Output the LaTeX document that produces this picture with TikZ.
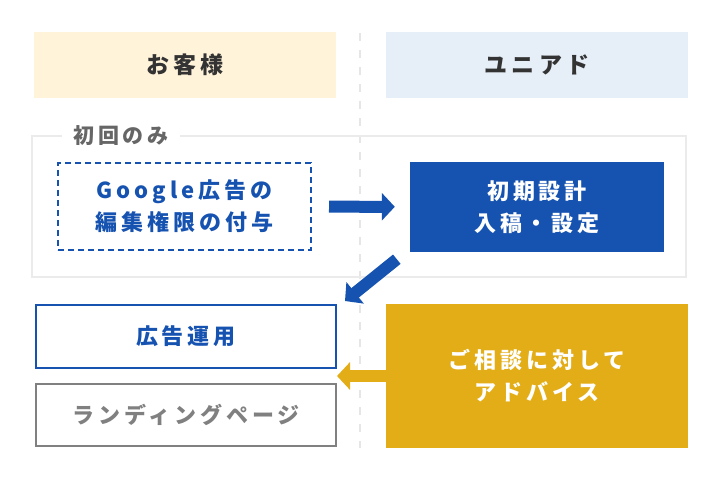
\documentclass[tikz,border=0pt]{standalone}
\usepackage{fontspec}
\setmainfont{Noto Sans CJK JP}[LetterSpace=18]
\usepackage{tikz}
\usetikzlibrary{positioning}
\usetikzlibrary{calc}
\usetikzlibrary{arrows.meta}

\definecolor{custbg}{HTML}{FFF3DA}
\definecolor{unibg}{HTML}{E6EEF7}
\definecolor{headtext}{HTML}{333333}
\definecolor{framegray}{HTML}{EBEBEB}
\definecolor{labelgray}{HTML}{666666}
\definecolor{divgray}{HTML}{E6E6E6}
\definecolor{ablue}{HTML}{1653B1}
\definecolor{lpgray}{HTML}{808080}
\definecolor{agold}{HTML}{E3AD17}

\begin{document}
\begin{tikzpicture}[x=1pt,y=-1pt,
    headbox/.style={minimum width=302pt,minimum height=66pt,inner sep=0pt,text=headtext,font=\fontsize{23}{23}\selectfont\bfseries},
    stepbox/.style={inner sep=0pt,align=center,font=\fontsize{22}{32}\selectfont\bfseries},
    firstframe/.style={draw=framegray,line width=2pt,minimum width=654pt,minimum height=141pt,inner sep=0pt},
    framelabel/.style={fill=white,text=labelgray,inner xsep=11pt,inner ysep=2pt,font=\fontsize{21}{21}\selectfont\bfseries},
    bluearrow/.style={draw=ablue,line width=12pt,-{Triangle[length=13pt,width=27pt]}},
    goldarrow/.style={draw=agold,line width=12pt,-{Triangle[length=13pt,width=27pt]}}]
  \useasboundingbox (0,0) rectangle (720,484);
  % centre divider
  \draw[divgray,line width=2pt,dash pattern=on 8pt off 9pt] (360,33) -- (360,448);
  % column heads
  \node[headbox,fill=custbg] (cust) at (185,65) {お客様};
  \node[headbox,fill=unibg] (uni) at (537,65) {ユニアド};
  % first time only
  \node[firstframe] (first) at (359,206.5) {};
  \node[framelabel] (firstlbl) at (121,136) {初回のみ};
  \node[stepbox,draw=ablue,line width=2pt,dash pattern=on 6pt off 4pt,fill=white,text=ablue,
        minimum width=253pt,minimum height=87pt] (grant) at (184.5,206.5) {Google広告の\\編集権限の付与};
  \node[stepbox,fill=ablue,text=white,minimum width=254pt,minimum height=90pt] (setup) at (537,207) {初期設計\\入稿・設定};
  % running
  \node[stepbox,draw=ablue,line width=2pt,text=ablue,minimum width=300pt,minimum height=63pt] (ops) at (186,336.5) {広告運用};
  \node[stepbox,draw=lpgray,line width=2pt,text=lpgray,minimum width=300pt,minimum height=62pt] (lp) at (186,415) {ランディングページ};
  \node[stepbox,fill=agold,text=white,minimum width=302pt,minimum height=144pt] (advice) at (537,376) {ご相談に対して\\アドバイス};
  % arrows
  \draw[bluearrow,shorten <=17pt,shorten >=15pt] (grant) -- (setup);
  \draw[bluearrow] ($(setup.south west)+(-13,7)$) -- ($(ops.north east)+(8,-3)$);
  \draw[goldarrow] (advice.west) -- (advice.west -| ops.east);
\end{tikzpicture}
\end{document}
